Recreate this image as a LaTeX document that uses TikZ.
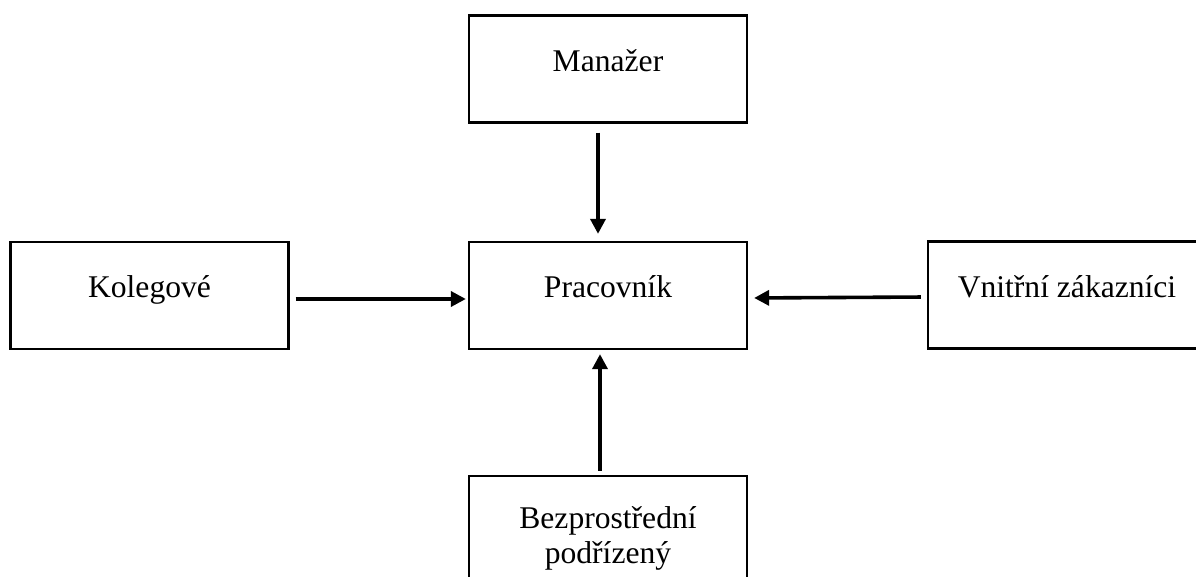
\documentclass[tikz,border=0pt]{standalone}
\usepackage{fontspec}
\setmainfont{Liberation Serif}
\usetikzlibrary{arrows.meta,positioning}

\tikzset{
  box/.style={draw, line width=1.15pt, minimum width=139pt, minimum height=53.5pt,
    inner sep=0pt, font=\fontsize{15.8}{17.5}\selectfont},
  oneline/.style={text height=0.5em, text depth=0.28em},
  arr/.style={-{Triangle[length=7.5pt,width=7.5pt]}, line width=1.8pt}
}

\begin{document}
\begin{tikzpicture}[x=0.5pt, y=-0.5pt]
\useasboundingbox (0,0) rectangle (1196,577);

% Boxes
\node[box, oneline] (man) at (608,69) {Manažer};
\node[box, oneline] (prac) at (608,295.5) {Pracovník};
\node[box, oneline] (kol) at (149.5,295.5) {Kolegové};
\node[box, oneline] (zak) at (1067,295) {Vnitřní zákazníci};
\node[box, minimum height=62.5pt, anchor=north, align=center] (pod) at (608,475)
  {Bezprostřední\\podřízený};

% Arrows into the worker
\draw[arr, shorten <=4.5pt, shorten >=3.5pt] ([xshift=-5pt]man.south) -- ([xshift=-5pt]prac.north);
\draw[arr, shorten <=3pt, shorten >=1pt] ([yshift=-1.75pt]kol.east) -- ([yshift=-1.75pt]prac.west);
\draw[arr, shorten <=3pt, shorten >=3pt] ([yshift=-1pt]zak.west) -- ([yshift=-1.25pt]prac.east);
\draw[arr, shorten <=2pt, shorten >=2pt] ([xshift=-4pt]pod.north) -- ([xshift=-4pt]prac.south);
\end{tikzpicture}
\end{document}
